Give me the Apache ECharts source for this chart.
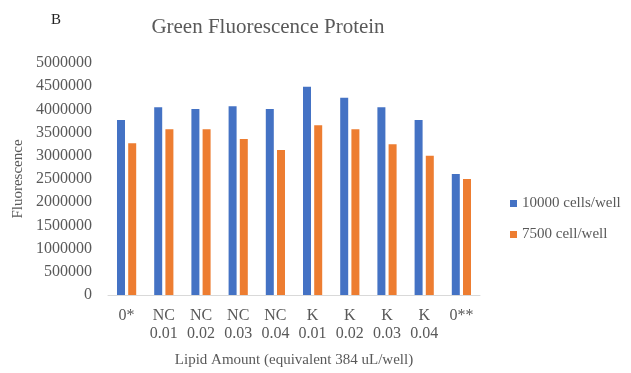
<!DOCTYPE html>
<html>
<head>
<meta charset="utf-8">
<script src="https://cdn.jsdelivr.net/npm/echarts@6/dist/echarts.min.js"></script>
<style>html,body{margin:0;padding:0;background:#fff}#c{width:631px;height:373px}</style>
</head>
<body>
<div id="c"></div>
<script>
var categories = ['0*', 'NC\n0.01', 'NC\n0.02', 'NC\n0.03', 'NC\n0.04', 'K\n0.01', 'K\n0.02', 'K\n0.03', 'K\n0.04', '0**'];
var cells10000 = [3770000, 4045000, 4010000, 4070000, 4010000, 4490000, 4250000, 4045000, 3770000, 2610000];
var cells7500 = [3270000, 3570000, 3570000, 3360000, 3125000, 3660000, 3570000, 3250000, 3000000, 2500000];
var seriesNames = ['10000 cells/well', '7500 cell/well'];
var yTicks = {min: 0, max: 5000000, interval: 500000};

var font = 'Liberation Serif';
var grey = '#595959';
var chart = echarts.init(document.getElementById('c'));
chart.setOption({
  animation: false,
  title: [
    {text: 'Green Fluorescence Protein', left: 263, top: 12, textAlign: 'center',
     textStyle: {fontFamily: font, fontSize: 21, fontWeight: 'normal', color: grey}},
    {text: 'B', left: 46, top: 8, textStyle: {fontFamily: font, fontSize: 15, fontWeight: 'normal', color: '#222'}}
  ],
  legend: {
    orient: 'vertical', left: 505, top: 191, itemWidth: 7, itemHeight: 7, itemGap: 16,
    icon: 'rect',
    textStyle: {fontFamily: font, fontSize: 15, color: grey},
    data: seriesNames
  },
  grid: {left: 108, right: 151, top: 63, bottom: 78, containLabel: false, outerBoundsMode: 'none'},
  xAxis: {
    type: 'category', data: categories,
    name: 'Lipid Amount (equivalent 384 uL/well)', nameLocation: 'middle', nameGap: 58,
    nameTextStyle: {fontFamily: font, fontSize: 15, color: grey},
    axisLine: {lineStyle: {color: '#d9d9d9'}},
    axisTick: {show: false},
    axisLabel: {fontFamily: font, fontSize: 16, color: grey, margin: 12, lineHeight: 18, interval: 0}
  },
  yAxis: {
    type: 'value', min: yTicks.min, max: yTicks.max, interval: yTicks.interval,
    name: 'Fluorescence', nameLocation: 'middle', nameGap: 80, nameRotate: 90,
    nameTextStyle: {fontFamily: font, fontSize: 15, color: grey},
    axisLine: {show: false}, axisTick: {show: false}, splitLine: {show: false},
    axisLabel: {fontFamily: font, fontSize: 16, color: grey, margin: 16,
      formatter: function (v) { return String(v); }}
  },
  series: [
    {name: seriesNames[0], type: 'bar', data: cells10000, barWidth: 8, barGap: '40%',
     itemStyle: {color: '#4472c4'}},
    {name: seriesNames[1], type: 'bar', data: cells7500, barWidth: 8,
     itemStyle: {color: '#ed7d31'}}
  ]
});
</script>
</body>
</html>
